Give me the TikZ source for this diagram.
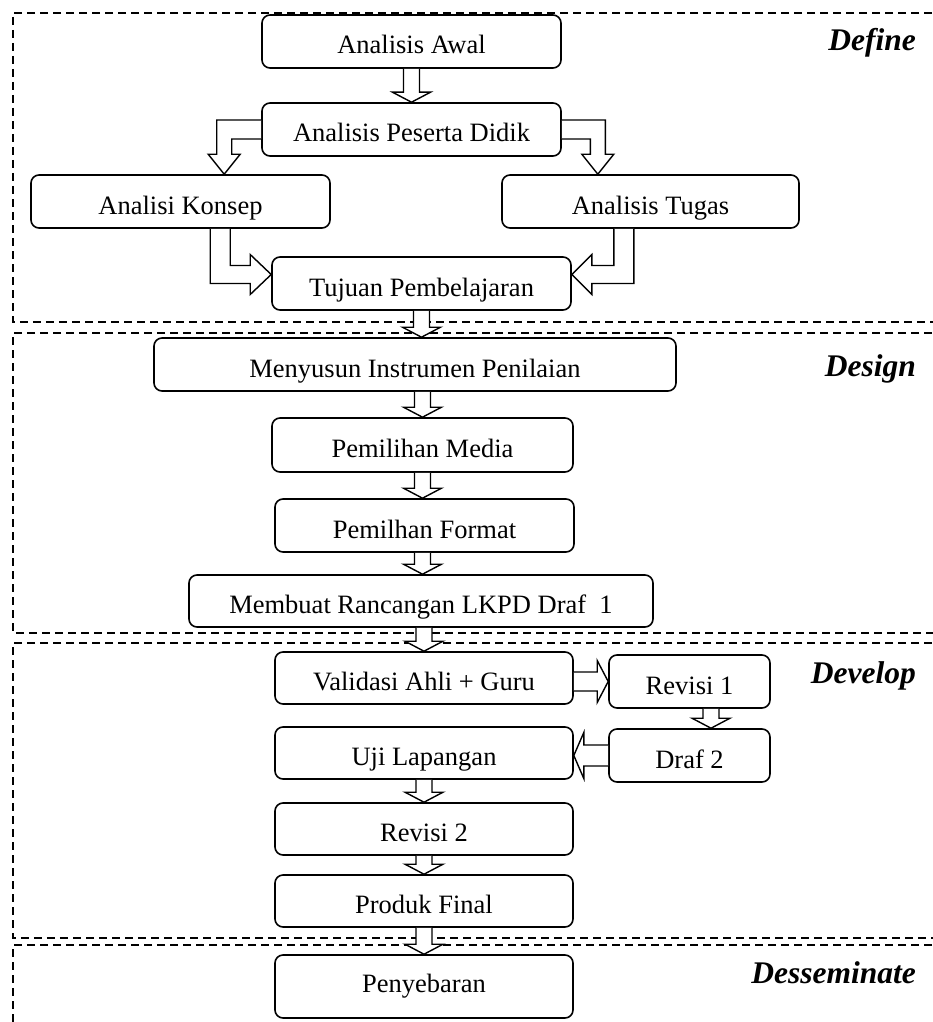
\documentclass[tikz,border=0pt]{standalone}
\usepackage{fontspec}
\setmainfont{Liberation Serif}
\usetikzlibrary{calc}

\tikzset{
  stagebox/.style={draw, fill=white, rounded corners=8pt, line width=1.6pt,
    inner sep=0pt, align=center, font=\fontsize{26.5}{30}\selectfont,
    text height=25pt, text depth=0pt, minimum height=53pt},
  phaseframe/.style={line width=1.8pt, dash pattern=on 8pt off 5pt},
  phasename/.style={anchor=base east, inner sep=0pt,
    font=\fontsize{31.5}{34}\selectfont\bfseries\itshape},
  blockarrow/.style={draw, fill=white, line width=1.4pt, line join=miter},
}

% hollow block arrow pointing down, shaft centred on the x of #3
\newcommand\arrowdown[3]{%
  \path[blockarrow] let \p1=(#1.south), \p2=(#2.north), \p3=#3 in
    (\x3-8pt,\y1) -- (\x3-8pt,\y2+10pt) -- (\x3-19pt,\y2+10pt) -- (\x3,\y2)
    -- (\x3+19pt,\y2+10pt) -- (\x3+8pt,\y2+10pt) -- (\x3+8pt,\y1);
}
% hollow block arrow pointing right, centred on the y of #3
\newcommand\arrowright[3]{%
  \path[blockarrow] let \p1=(#1.east), \p2=(#2.west), \p3=#3 in
    (\x1,\y3+9.5pt) -- (\x2-11pt,\y3+9.5pt) -- (\x2-11pt,\y3+21pt) -- (\x2,\y3)
    -- (\x2-11pt,\y3-21pt) -- (\x2-11pt,\y3-9.5pt) -- (\x1,\y3-9.5pt);
}
% hollow block arrow pointing left, centred on the y of #3
\newcommand\arrowleft[3]{%
  \path[blockarrow] let \p1=(#1.west), \p2=(#2.east), \p3=#3 in
    (\x1,\y3+10.5pt) -- (\x2+10pt,\y3+10.5pt) -- (\x2+10pt,\y3+23pt) -- (\x2,\y3)
    -- (\x2+10pt,\y3-23pt) -- (\x2+10pt,\y3-10.5pt) -- (\x1,\y3-10.5pt);
}

\begin{document}
\begin{tikzpicture}[x=1pt, y=-1pt]
\useasboundingbox (0,0) rectangle (932,1022);

% phase frames (open on the right)
\draw[phaseframe] (945,13) -- (13,13) -- (13,322) -- (945,322);
\draw[phaseframe] (945,333) -- (13,333) -- (13,633) -- (945,633);
\draw[phaseframe] (945,643) -- (13,643) -- (13,938) -- (945,938);
\draw[phaseframe] (945,945) -- (13,945) -- (13,1030);

% phase names
\node[phasename] (lbldefine) at (916,51) {Define};
\node[phasename] (lbldesign) at (916,376) {Design};
\node[phasename] (lbldevelop) at (916,683) {Develop};
\node[phasename] (lbldissem) at (916,983) {Desseminate};

% stage boxes
\node[stagebox, minimum width=299pt] (awal)     at (411.5,41.5) {Analisis Awal};
\node[stagebox, minimum width=299pt] (peserta)  at (411.5,129.5) {Analisis Peserta Didik};
\node[stagebox, minimum width=299pt] (konsep)   at (180.5,201.5) {Analisi Konsep};
\node[stagebox, minimum width=297pt] (tugas)    at (650.5,201.5) {Analisis Tugas};
\node[stagebox, minimum width=299pt] (tujuan)   at (421.5,283.5) {Tujuan Pembelajaran};

\node[stagebox, minimum width=522pt] (instrumen) at (415,364.5) {Menyusun Instrumen Penilaian};
\node[stagebox, minimum width=301pt, minimum height=54pt] (media) at (422.5,445) {Pemilihan Media};
\node[stagebox, minimum width=299pt] (format)   at (424.5,525.5) {Pemilhan Format};
\node[stagebox, minimum width=464pt, minimum height=52pt] (rancangan) at (421,601) {Membuat Rancangan LKPD Draf~~1};

\node[stagebox, minimum width=298pt, minimum height=52pt] (validasi) at (424,678) {Validasi Ahli + Guru};
\node[stagebox, minimum width=161pt] (revisi1)  at (689.5,681.5) {Revisi 1};
\node[stagebox, minimum width=298pt, minimum height=52pt] (uji) at (424,753) {Uji Lapangan};
\node[stagebox, minimum width=161pt] (draf2)    at (689.5,755.5) {Draf 2};
\node[stagebox, minimum width=298pt, minimum height=52pt] (revisi2) at (424,829) {Revisi 2};
\node[stagebox, minimum width=298pt, minimum height=52pt] (produk) at (424,901) {Produk Final};
\node[stagebox, minimum width=298pt, minimum height=63pt, text depth=13pt] (sebar) at (424,986.5) {Penyebaran};

% Define phase connectors
\arrowdown{awal}{peserta}{(awal.center)}
\path[blockarrow] let \p1=(peserta.west), \p2=(konsep.north),
    \n1={\x1-37pt} in
  (\x1,\y1+9.5pt) -- (\n1-7.5pt,\y1+9.5pt) -- (\n1-7.5pt,\y2+20pt)
  -- (\n1-16pt,\y2+20pt) -- (\n1,\y2) -- (\n1+16pt,\y2+20pt)
  -- (\n1+7.5pt,\y2+20pt) -- (\n1+7.5pt,\y1-9.5pt) -- (\x1,\y1-9.5pt);
\path[blockarrow] let \p1=(peserta.east), \p2=(tugas.north),
    \n1={\x1+36pt} in
  (\x1,\y1+9.5pt) -- (\n1+7.5pt,\y1+9.5pt) -- (\n1+7.5pt,\y2+20pt)
  -- (\n1+16pt,\y2+20pt) -- (\n1,\y2) -- (\n1-16pt,\y2+20pt)
  -- (\n1-7.5pt,\y2+20pt) -- (\n1-7.5pt,\y1-9.5pt) -- (\x1,\y1-9.5pt);
\path[blockarrow] let \p1=(konsep.south), \p2=(tujuan.west),
    \n1={\x2-51pt}, \n2={\y2+9pt} in
  (\n1-10pt,\y1) -- (\n1-10pt,\n2-9pt) -- (\x2-21pt,\n2-9pt)
  -- (\x2-21pt,\n2-20pt) -- (\x2,\n2) -- (\x2-21pt,\n2+20pt)
  -- (\x2-21pt,\n2+9pt) -- (\n1+10pt,\n2+9pt) -- (\n1+10pt,\y1);
\path[blockarrow] let \p1=(tugas.south), \p2=(tujuan.east),
    \n1={\x2+52pt}, \n2={\y2+9pt} in
  (\n1+10pt,\y1) -- (\n1+10pt,\n2-9pt) -- (\x2+20pt,\n2-9pt)
  -- (\x2+20pt,\n2-20pt) -- (\x2,\n2) -- (\x2+20pt,\n2+20pt)
  -- (\x2+20pt,\n2+9pt) -- (\n1-10pt,\n2+9pt) -- (\n1-10pt,\y1);

% Design phase connectors
\arrowdown{tujuan}{instrumen}{(tujuan.center)}
\arrowdown{instrumen}{media}{(media.center)}
\arrowdown{media}{format}{(media.center)}
\arrowdown{format}{rancangan}{(media.center)}

% Develop phase connectors
\arrowdown{rancangan}{validasi}{(validasi.center)}
\arrowright{validasi}{revisi1}{(revisi1.center)}
\arrowdown{revisi1}{draf2}{($(revisi1.center)+(21.5,0)$)}
\arrowleft{draf2}{uji}{(draf2.center)}
\arrowdown{uji}{revisi2}{(uji.center)}
\arrowdown{revisi2}{produk}{(uji.center)}

% Disseminate phase connector
\arrowdown{produk}{sebar}{(uji.center)}
\end{tikzpicture}
\end{document}
